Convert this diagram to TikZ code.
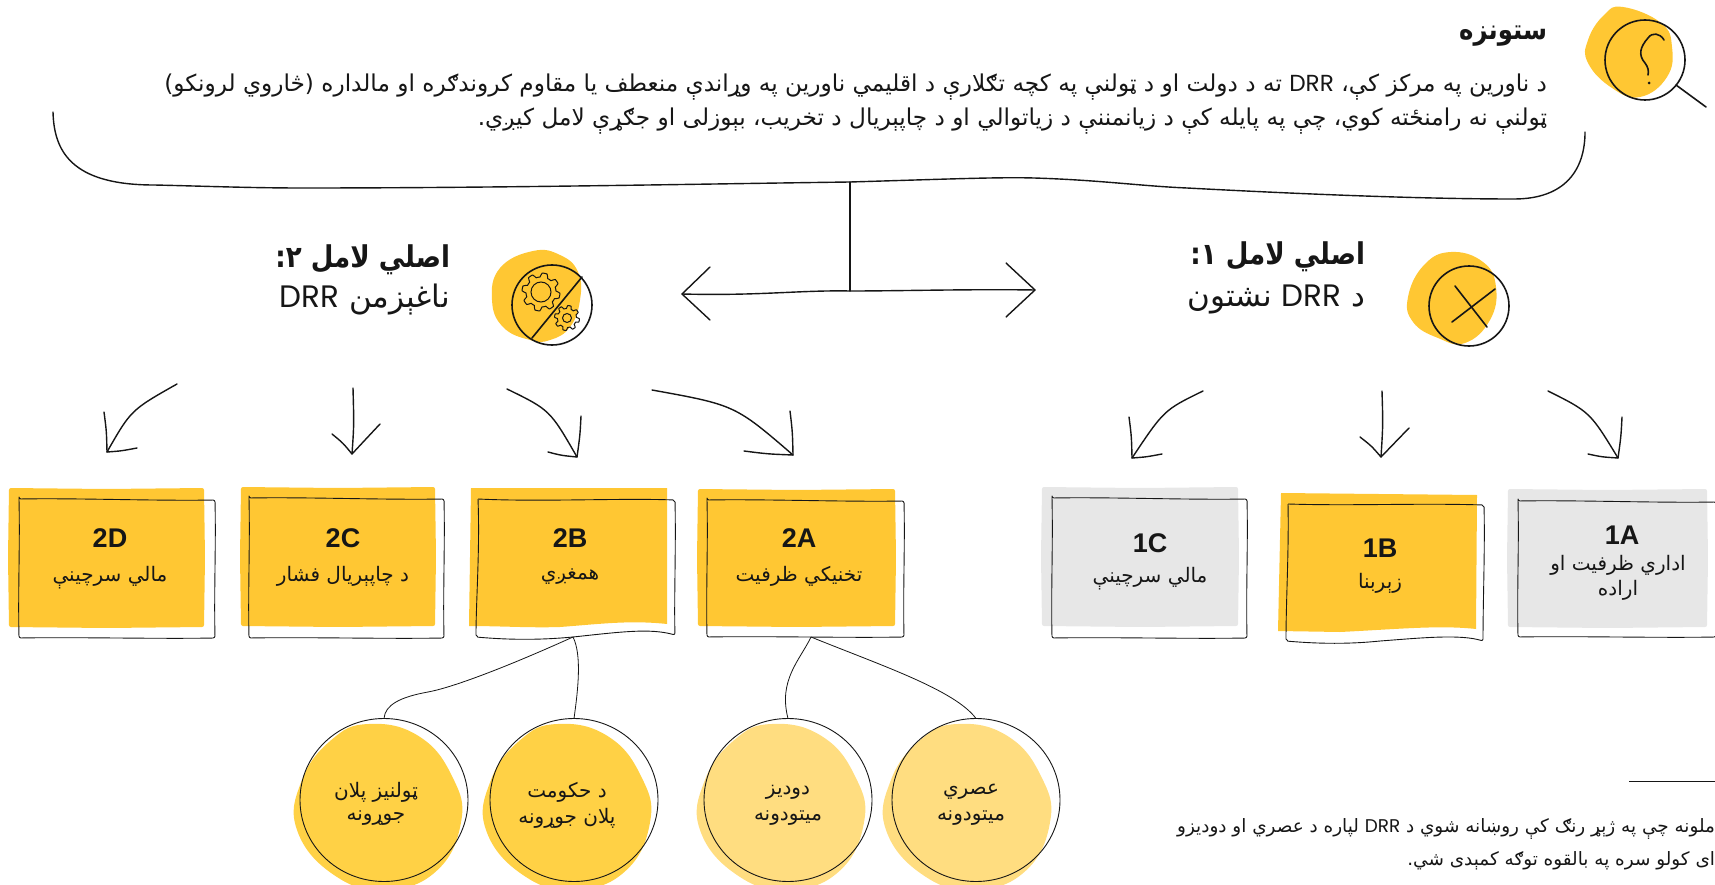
\documentclass[tikz,border=0pt]{standalone}
\usepackage{fontspec}
\usepackage{graphicx}
\usetikzlibrary{shapes.geometric,calc}
\TeXXeTstate=1
\newfontfamily\arfont[Script=Arabic]{DejaVu Sans}
\newfontfamily\arbold[Script=Arabic]{DejaVu Sans Bold}
\newfontfamily\latf{Poppins}
\newfontfamily\latb{Liberation Sans Bold}
\newcommand{\AR}[1]{\arfont\beginR #1\endR}
\newcommand{\ARB}[1]{\scalebox{0.87}[1]{\arbold\beginR #1\endR}}
\newcommand{\DRR}{\beginL{\latf DRR}\endL}
\definecolor{ybox}{HTML}{FFC733}
\definecolor{gbox}{HTML}{E7E7E7}
\definecolor{ydark}{HTML}{FFD145}
\definecolor{ylight}{HTML}{FFDD80}
\definecolor{ink}{HTML}{161616}
\tikzset{
  txt/.style={inner sep=0pt,outer sep=0pt,text=ink},
  headtxt/.style={txt,anchor=east,font=\fontsize{30}{30}\selectfont},
  titletxt/.style={txt,anchor=east,font=\fontsize{28}{28}\selectfont},
  subhead/.style={txt,anchor=east,font=\fontsize{31}{31}\selectfont},
  bodytxt/.style={txt,anchor=east,font=\fontsize{23.2}{23.2}\selectfont},
  notetxt/.style={txt,anchor=east,font=\fontsize{18.4}{18.4}\selectfont},
  codetxt/.style={txt,font=\fontsize{27}{27}\selectfont\latb},
  subtxt/.style={txt,font=\fontsize{20}{20}\selectfont},
  circtxt/.style={txt,font=\fontsize{20}{20}\selectfont},
  outline/.style={draw=ink,line width=0.9pt,line join=round},
  iconline/.style={draw=ink,line width=1.6pt,line cap=round,line join=round},
  handline/.style={draw=ink,line width=1.4pt,line cap=round,line join=round},
  thinline/.style={draw=ink,line width=0.8pt},
  circ/.style={ellipse,draw=ink,line width=0.9pt,inner sep=0pt,outer sep=0pt,minimum width=168pt,minimum height=163pt},
  anchorbox/.style={inner sep=0pt,outer sep=0pt},
}
% hand-drawn arrow: name, start, via, tip, barb1, barb2
\newcommand{\handarrow}[6]{%
  \coordinate (#1s) at (#2);\coordinate (#1t) at (#4);
  \draw[handline] (#1s) .. controls (#3) .. (#1t);
  \draw[handline] (#5) .. controls ($(#5)!0.5!(#1t)+(1,-1)$) .. (#1t) .. controls ($(#6)!0.5!(#1t)+(-1,1)$) .. (#6);}
% filled sheet and sketched outline
\newcommand{\sheet}[5]{\fill[#1,rounded corners=2pt] (#2,#3) -- ({(#2+#4)/2},{#3+1}) -- (#4,#3) -- ({#4+1},{(#3+#5)/2}) -- (#4,#5) -- ({(#2+#4)/2},{#5+1}) -- (#2,#5) -- ({#2-1},{(#3+#5)/2}) -- cycle;}
\newcommand{\sketch}[4]{\draw[outline,rounded corners=2pt] (#1,#2) .. controls ({#1+60},{#2-1}) and ({#3-60},{#2+2}) .. (#3,{#2+1}) .. controls ({#3+1},{#2+50}) and ({#3-1},{#4-50}) .. (#3,#4) .. controls ({#3-60},{#4+1}) and ({#1+60},{#4-1}) .. (#1,#4) .. controls ({#1-1},{#4-50}) and ({#1+1},{#2+50}) .. (#1,#2) -- cycle;}
% irregular blob
\newcommand{\blob}[5]{\fill[#5] plot[smooth cycle,tension=0.75] coordinates {
 ({#1-0.1*#3},{#2-1.0*#4}) ({#1+0.5*#3},{#2-0.85*#4}) ({#1+0.9*#3},{#2-0.35*#4}) ({#1+1.0*#3},{#2+0.2*#4})
 ({#1+0.7*#3},{#2+0.8*#4}) ({#1+0.1*#3},{#2+1.02*#4}) ({#1-0.5*#3},{#2+0.85*#4}) ({#1-0.95*#3},{#2+0.3*#4})
 ({#1-0.9*#3},{#2-0.3*#4}) ({#1-0.55*#3},{#2-0.8*#4})};}
\newcommand{\gear}[4]{\draw[ink,line width=1pt,line join=round] plot[smooth cycle,samples=96,domain=0:356.25,variable=\a]
  ({#1+(#3+#4*max(-1,min(1,2.2*sin(8*\a))))*cos(\a)},{#2+(#3+#4*max(-1,min(1,2.2*sin(8*\a))))*sin(\a)});}
\begin{document}
\begin{tikzpicture}[x=1pt,y=-1pt]
\useasboundingbox (0,0) rectangle (1715,885);
\clip (0,0) rectangle (1715,885);

% ---- Problem
\fill[ybox] plot[smooth cycle,tension=0.75] coordinates {(1623,7) (1661,23) (1672,47) (1667,77) (1640,97) (1612,88) (1588,63) (1588,40) (1604,15)};
\draw[iconline] (1645,60) ellipse [x radius=40,y radius=40];
\draw[iconline] (1676,85) -- (1706,107);
\draw[iconline] (1664,40) .. controls (1660,33) and (1652,32) .. (1648,38) .. controls (1640,47) and (1638,55) .. (1645,63) .. controls (1648,67) and (1649,71) .. (1648,75);
\fill[ink] (1649,83) circle (1.5);

\node[titletxt] (title) at (1547,36) {\ARB{ستونزه}};
\node[bodytxt] (l1) at (1547,87) {\AR{د ناورین په مرکز کې، \DRR{} ته د دولت او د ټولنې په کچه تګلارې د اقلیمي ناورین په وړاندې منعطف یا مقاوم کروندګره او مالداره (څاروي لرونکو)}};
\node[bodytxt] (l2) at (1547,121) {\AR{ټولنې نه رامنځته کوي، چې په پایله کې د زیانمننې د زیاتوالي او د چاپېریال د تخریب، بېوزلی او جګړې لامل کیږي.}};

% ---- Brace
\coordinate (braceL) at (53,112);
\coordinate (braceR) at (1585,132);
\coordinate (braceM) at (850,182);
\coordinate (stemEnd) at (850,291);
\coordinate (tipL) at (682,294);
\coordinate (tipR) at (1035,290);
\draw[handline] (braceL) .. controls (54,150) and (70,185) .. (154,185)
   .. controls (200,186) and (250,188) .. (302,188) .. controls (500,188) and (700,184) .. (braceM)
   .. controls (950,179) and (1000,177) .. (1034,178) .. controls (1100,180) and (1140,186) .. (1187,188)
   .. controls (1300,194) and (1420,199) .. (1514,199) .. controls (1565,199) and (1585,170) .. (braceR);
\draw[handline] (braceM) -- (stemEnd);
\draw[handline] (tipL) .. controls (760,296) and (800,290) .. (stemEnd) .. controls (900,291) and (970,289) .. (tipR);
\draw[handline] (710,267) -- (tipL) -- (710,320);
\draw[handline] (1006,263) -- (tipR) -- (1006,317);

% ---- Cause 2 heading
\node[headtxt] (h2a) at (450,260) {\ARB{اصلي لامل ۲:}};
\node[subhead] (h2b) at (450,300) {\AR{ناغېزمن \DRR}};
\fill[ybox] plot[smooth cycle,tension=0.75] coordinates {(533,251) (560,255) (578,272) (580,300) (570,327) (550,340) (530,340) (503,327) (492,300) (500,268)};
\draw[iconline] (552,305) ellipse [x radius=40,y radius=40];
\draw[iconline] (532,338) -- (582,277);
\gear{541}{292}{17}{2}
\draw[ink,line width=1pt] (541,292) circle (10);
\gear{567}{318}{11}{1.5}
\draw[ink,line width=1pt] (567,318) circle (4.5);

% ---- Cause 1 heading
\node[headtxt] (h1a) at (1365,257) {\ARB{اصلي لامل ۱:}};
\node[subhead] (h1b) at (1365,299) {\AR{د \DRR{} نشتون}};
\fill[ybox] plot[smooth cycle,tension=0.75] coordinates {(1451,252) (1483,262) (1496,287) (1490,320) (1465,343) (1438,338) (1413,322) (1408,297) (1424,265)};
\draw[iconline] (1469,306) ellipse [x radius=40,y radius=40];
\draw[iconline] (1455,286) -- (1487,327);
\draw[iconline] (1495,289) -- (1452,322);

% ---- Arrows
\handarrow{a1}{1203,391}{1164,410}{1132,458}{1129,417}{1162,454}
\handarrow{a2}{1382,391}{1383,425}{1381,457}{1360,437}{1409,428}
\handarrow{a3}{1548,391}{1590,412}{1618,458}{1622,417}{1588,454}
\handarrow{a4}{177,384}{131,410}{107,452}{104,412}{137,448}
\handarrow{a5}{353,388}{354,425}{352,454}{332,434}{380,424}
\handarrow{a6}{507,389}{550,410}{577,457}{581,416}{548,452}
\handarrow{a7}{652,390}{735,405}{793,455}{790,411}{744,451}

% ---- Sheets
\sheet{ybox}{9}{488}{204}{627}   \sketch{19}{499}{215}{638}
\sheet{ybox}{241}{487}{435}{626} \sketch{249}{498}{444}{638}
\fill[ybox] (471,488) -- (667,488) -- (667,624) .. controls (630,620) and (600,624) .. (560,627) .. controls (530,628) and (500,626) .. (469,626) -- cycle;
\draw[outline,rounded corners=2pt] (478,499) .. controls (540,502) and (620,498) .. (675,500) .. controls (676,550) and (674,600) .. (675,635) .. controls (650,628) and (620,632) .. (573,637) .. controls (540,640) and (510,640) .. (476,637) .. controls (476,600) and (480,550) .. (478,499);
\sheet{ybox}{698}{489}{895}{626} \sketch{707}{500}{904}{637}
\sheet{gbox}{1042}{487}{1238}{626} \sketch{1052}{498}{1247}{638}
\fill[ybox] (1281,493) -- (1477,495) -- (1476,629) .. controls (1440,625) and (1400,629) .. (1340,632) -- (1278,631) -- cycle;
\draw[outline,rounded corners=2pt] (1288,504) .. controls (1350,506) and (1420,503) .. (1484,505) .. controls (1485,550) and (1483,600) .. (1483,641) .. controls (1460,634) and (1420,638) .. (1380,641) .. controls (1350,644) and (1320,644) .. (1286,641) .. controls (1286,600) and (1289,550) .. (1288,504);
\sheet{gbox}{1508}{489}{1707}{627} \sketch{1518}{501}{1716}{637}

% box anchors
\node[anchorbox,minimum width=197pt,minimum height=137pt] (b2B) at (573,568.5) {};
\node[anchorbox,minimum width=197pt,minimum height=137pt] (b2A) at (811,568.5) {};

% ---- Box labels
\node[codetxt] (t2D) at (110,538) {2D};
\node[subtxt] (s2D) at (110,578) {\AR{مالي سرچینې}};
\node[codetxt] (t2C) at (343,538) {2C};
\node[subtxt] (s2C) at (343,576) {\AR{د چاپېریال فشار}};
\node[codetxt] (t2B) at (570,538) {2B};
\node[subtxt] (s2B) at (570,577) {\AR{همغږي}};
\node[codetxt] (t2A) at (799,538) {2A};
\node[subtxt] (s2A) at (799,576) {\AR{تخنیکي ظرفیت}};
\node[codetxt] (t1C) at (1150,543) {1C};
\node[subtxt] (s1C) at (1150,579) {\AR{مالي سرچینې}};
\node[codetxt] (t1B) at (1380,548) {1B};
\node[subtxt] (s1B) at (1380,583) {\AR{زېربنا}};
\node[codetxt] (t1A) at (1622,535) {1A};
\node[subtxt] (s1Aa) at (1618,565) {\AR{اداري ظرفیت او}};
\node[subtxt] (s1Ab) at (1618,590) {\AR{اراده}};

% ---- Circles
\blob{377}{806}{84}{82}{ydark}
\blob{566}{806}{84}{82}{ydark}
\blob{780}{806}{84}{82}{ylight}
\blob{966}{806}{84}{82}{ylight}
\node[circ] (c1) at (384,800) {};
\node[circ] (c2) at (574,800) {};
\node[circ] (c3) at (788,800) {};
\node[circ] (c4) at (976,800) {};
\node[circtxt] (c1a) at (376,792) {\AR{ټولنیز پلان}};
\node[circtxt] (c1b) at (376,818) {\AR{جوړونه}};
\node[circtxt] (c2a) at (567,792) {\AR{د حکومت}};
\node[circtxt] (c2b) at (567,818) {\AR{پلان جوړونه}};
\node[circtxt] (c3a) at (788,792) {\AR{دودیز}};
\node[circtxt] (c3b) at (788,818) {\AR{میتودونه}};
\node[circtxt] (c4a) at (971,792) {\AR{عصري}};
\node[circtxt] (c4b) at (971,818) {\AR{میتودونه}};

% ---- Connectors
\draw[thinline] (b2B.south) .. controls (500,670) and (450,688) .. (428,692) .. controls (400,697) and (385,705) .. (c1.north);
\draw[thinline] (b2B.south) .. controls (582,655) and (578,690) .. (c2.north);
\draw[thinline] (b2A.south) .. controls (800,660) and (778,680) .. (c3.north);
\draw[thinline] (b2A.south) .. controls (880,665) and (955,690) .. (c4.north);

% ---- Note
\coordinate (ruleL) at (1629,781);
\coordinate (ruleR) at (1715,781);
\draw[line width=1pt,draw=ink] (ruleL) -- (ruleR);
\node[notetxt] (n1) at (1715,829) {\AR{ملونه چې په ژېړ رنګ کې روښانه شوي د \DRR{} لپاره د عصري او دودیزو}};
\node[notetxt] (n2) at (1715,861) {\AR{ای کولو سره په بالقوه توګه کمېدی شي.}};
\end{tikzpicture}
\end{document}
